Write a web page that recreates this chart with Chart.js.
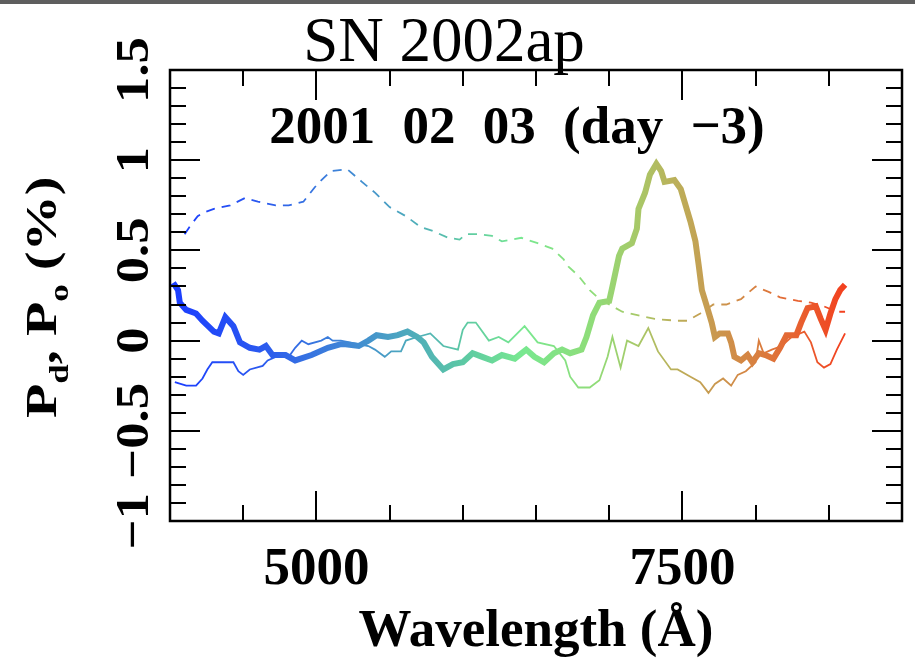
<!DOCTYPE html>
<html>
<head>
<meta charset="utf-8">
<title>SN 2002ap</title>
<script src="https://cdn.jsdelivr.net/npm/chart.js@4.4.1/dist/chart.umd.min.js"></script>
<style>
  html, body { margin: 0; padding: 0; background: #fff; overflow: hidden; }
  #wrap { width: 915px; height: 661px; overflow: hidden; }
</style>
</head>
<body>
<div id="wrap"><canvas id="polChart" width="925" height="661"></canvas></div>
<script>
// thick solid curve (P_d)
const pdWave = [4022, 4055, 4067, 4111, 4178, 4222, 4300, 4333, 4378, 4433, 4478, 4545, 4611, 4655, 4700, 4789, 4855, 4967,
    5078, 5167, 5200, 5289, 5355, 5411, 5489, 5555, 5622, 5689, 5733, 5789, 5867, 5933, 6000, 6067, 6133, 6200, 6267,
    6355, 6433, 6489, 6555, 6622, 6678, 6733, 6811, 6845, 6889, 6933, 7000, 7022, 7067, 7089, 7155, 7189, 7200, 7245,
    7278, 7322, 7355, 7378, 7445, 7489, 7522, 7555, 7589, 7611, 7633, 7667, 7700, 7722, 7755, 7811, 7833, 7855, 7900,
    7945, 7978, 8022, 8067, 8122, 8167, 8211, 8278, 8311, 8355, 8411, 8445, 8478, 8511, 8545, 8578, 8611];
const pdValue = [0.32, 0.28, 0.21, 0.17, 0.15, 0.11, 0.05, 0.04, 0.13, 0.08, -0.01, -0.04, -0.05, -0.03, -0.08, -0.08, -0.11, -0.08,
    -0.04, -0.02, -0.02, -0.03, 0.00, 0.03, 0.02, 0.03, 0.05, 0.02, -0.01, -0.09, -0.16, -0.13, -0.12, -0.07, -0.09, -0.11, -0.08,
    -0.10, -0.05, -0.09, -0.12, -0.07, -0.05, -0.07, -0.05, 0.02, 0.14, 0.21, 0.22, 0.30, 0.47, 0.51, 0.54, 0.62, 0.73, 0.82,
    0.92, 0.98, 0.94, 0.88, 0.89, 0.84, 0.75, 0.66, 0.55, 0.42, 0.28, 0.19, 0.10, 0.02, 0.04, 0.04, -0.01, -0.09, -0.11,
    -0.08, -0.12, -0.07, -0.08, -0.10, -0.04, 0.03, 0.03, 0.10, 0.18, 0.19, 0.12, 0.06, 0.15, 0.23, 0.28, 0.31];

// thin solid curve (P_o)
const poWave = [4033, 4111, 4178, 4222, 4255, 4289, 4433, 4467, 4500, 4545, 4633, 4667, 4722, 4811, 4855, 4900, 4945, 5033,
    5078, 5111, 5167, 5355, 5400, 5467, 5511, 5578, 5611, 5689, 5778, 5867, 5967, 6000, 6033, 6089, 6178, 6245, 6311,
    6422, 6511, 6622, 6700, 6733, 6789, 6867, 6933, 6989, 7022, 7078, 7122, 7200, 7267, 7333, 7422, 7467, 7555, 7622,
    7678, 7722, 7778, 7833, 7878, 7933, 8000, 8022, 8055, 8111, 8178, 8245, 8333, 8378, 8422, 8467, 8511, 8555, 8611];
const poValue = [-0.23, -0.25, -0.25, -0.21, -0.16, -0.12, -0.12, -0.17, -0.19, -0.16, -0.14, -0.11, -0.09, -0.09, -0.04, 0.00, -0.02, 0.00,
    0.02, 0.00, 0.00, -0.03, -0.05, -0.09, -0.06, -0.06, 0.00, 0.02, 0.04, -0.03, -0.05, 0.06, 0.10, 0.10, 0.00, 0.02, -0.01,
    0.08, -0.01, -0.03, -0.11, -0.20, -0.26, -0.26, -0.22, -0.09, 0.02, -0.15, 0.00, -0.03, 0.07, -0.06, -0.16, -0.16, -0.20, -0.23,
    -0.29, -0.24, -0.21, -0.25, -0.19, -0.17, -0.12, 0.00, -0.07, -0.05, -0.03, 0.02, 0.05, -0.01, -0.12, -0.15, -0.13, -0.05, 0.04];

// dashed curve
const dashWave = [4100, 4133, 4189, 4233, 4300, 4411, 4511, 4600, 4722, 4811, 4911, 4989, 5022, 5100, 5211, 5311, 5400, 5500,
    5611, 5711, 5789, 5900, 5978, 6022, 6111, 6200, 6267, 6400, 6511, 6611, 6689, 6722, 6789, 6867, 6933, 7000, 7089,
    7200, 7311, 7467, 7533, 7622, 7711, 7800, 7900, 8000, 8089, 8167, 8289, 8378, 8467, 8555, 8611];
const dashValue = [0.59, 0.63, 0.69, 0.71, 0.73, 0.75, 0.79, 0.77, 0.75, 0.75, 0.77, 0.85, 0.88, 0.94, 0.95, 0.88, 0.82, 0.74,
    0.69, 0.63, 0.61, 0.57, 0.56, 0.59, 0.59, 0.58, 0.55, 0.57, 0.54, 0.51, 0.45, 0.41, 0.36, 0.28, 0.23, 0.20, 0.16,
    0.14, 0.12, 0.11, 0.11, 0.15, 0.20, 0.20, 0.23, 0.30, 0.27, 0.24, 0.22, 0.21, 0.19, 0.16, 0.16];

// colour along wavelength
const stopWave = [4000, 4600, 5200, 5700, 6000, 6400, 6900, 7200, 7400, 7700, 8000, 8300, 8650];
const stopColor = ['#1a3cff', '#2a58f0', '#3f86d6', '#50b0b8', '#5cc8a4', '#78e890', '#90dc78', '#a8c868',
    '#b8b45c', '#c89a50', '#d88040', '#e86030', '#f43c1c'];

const yTickText = v => (v < -1e-9 ? '\u2212' : '') + String(Math.abs(Math.round(v * 10) / 10));
const isMajorY = v => Math.abs(v * 2 - Math.round(v * 2)) < 1e-6;

function toPoints(xs, ys) {
    return xs.map((w, i) => ({x: w, y: ys[i]}));
}

function spectrumColor(context) {
    const chart = context.chart;
    if (!chart.chartArea) return '#3050f0';
    const xs = chart.scales.x;
    const x0 = xs.getPixelForValue(stopWave[0]);
    const x1 = xs.getPixelForValue(stopWave[stopWave.length - 1]);
    const g = chart.ctx.createLinearGradient(x0, 0, x1, 0);
    const span = stopWave[stopWave.length - 1] - stopWave[0];
    stopWave.forEach((w, i) => g.addColorStop((w - stopWave[0]) / span, stopColor[i]));
    return g;
}

const frameAndText = {
    id: 'frameAndText',
    beforeDraw(chart) {
        const ctx = chart.ctx;
        ctx.save();
        ctx.fillStyle = '#ffffff';
        ctx.fillRect(0, 0, chart.width, chart.height);
        ctx.fillStyle = '#5e5e5e';
        ctx.fillRect(0, 0, chart.width, 4);
        ctx.restore();
    },
    afterDraw(chart) {
        const {ctx, chartArea: a} = chart;
        const x = chart.scales.x, y = chart.scales.y;
        ctx.save();
        ctx.strokeStyle = '#000';
        ctx.lineWidth = 2;
        // inward ticks on all four sides
        ctx.beginPath();
        x.ticks.forEach(t => {
            const px = Math.round(x.getPixelForValue(t.value));
            const len = t.value % 2500 === 0 ? 30 : 16;
            ctx.moveTo(px, a.bottom); ctx.lineTo(px, a.bottom - len);
            ctx.moveTo(px, a.top); ctx.lineTo(px, a.top + len);
        });
        y.ticks.forEach(t => {
            const py = Math.round(y.getPixelForValue(t.value));
            const len = isMajorY(t.value) ? 30 : 16;
            ctx.moveTo(a.left, py); ctx.lineTo(a.left + len, py);
            ctx.moveTo(a.right, py); ctx.lineTo(a.right - len, py);
        });
        ctx.stroke();
        ctx.lineWidth = 2.5;
        ctx.strokeRect(a.left, a.top, a.right - a.left, a.bottom - a.top);

        ctx.fillStyle = '#000';
        // y tick labels, rotated
        ctx.font = 'bold 47px "Liberation Serif"';
        ctx.textAlign = 'center';
        ctx.textBaseline = 'alphabetic';
        y.ticks.forEach(t => {
            if (!isMajorY(t.value)) return;
            ctx.save();
            ctx.translate(148, y.getPixelForValue(t.value));
            ctx.rotate(-Math.PI / 2);
            ctx.scale(1.12, 1);
            ctx.fillText(yTickText(t.value), 0, 0);
            ctx.restore();
        });

        // y axis title with subscripts
        ctx.save();
        ctx.translate(56, 418);
        ctx.rotate(-Math.PI / 2);
        ctx.scale(1.25, 1);
        ctx.textAlign = 'left';
        const big = 'bold 45px "Liberation Serif"', small = 'bold 28px "Liberation Serif"';
        let cx = 0;
        [['P', big, 0], ['d', small, 12], [', P', big, 0], ['o', small, 12], [' (%)', big, 0]].forEach(([s, f, dy]) => {
            ctx.font = f;
            ctx.fillText(s, cx, dy);
            cx += ctx.measureText(s).width;
        });
        ctx.restore();

        // main title and date label
        ctx.textAlign = 'center';
        ctx.font = '63px "Liberation Serif"';
        ctx.fillText('SN 2002ap', 444, 61);
        ctx.font = 'bold 53px "Liberation Serif"';
        if ('wordSpacing' in ctx) ctx.wordSpacing = '14px';
        ctx.fillText('2001 02 03 (day \u22123)', 517, 143);
        ctx.restore();
    }
};

const labelFont = {family: 'Liberation Serif', weight: 'bold', size: 53, lineHeight: 1};

new Chart(document.getElementById('polChart'), {
    type: 'line',
    plugins: [frameAndText],
    data: {
        datasets: [
            {
                label: 'Pd',
                data: toPoints(pdWave, pdValue),
                borderColor: spectrumColor,
                borderWidth: 6,
                pointRadius: 0,
                tension: 0
            },
            {
                label: 'Po',
                data: toPoints(poWave, poValue),
                borderColor: spectrumColor,
                borderWidth: 1.8,
                pointRadius: 0,
                tension: 0
            },
            {
                label: 'dashed',
                data: toPoints(dashWave, dashValue),
                borderColor: spectrumColor,
                borderWidth: 1.8,
                borderDash: [9, 7],
                pointRadius: 0,
                tension: 0
            }
        ]
    },
    options: {
        responsive: false,
        animation: false,
        layout: {padding: {left: 170, right: 5, top: 70, bottom: 2}},
        plugins: {
            legend: {display: false},
            tooltip: {enabled: false},
            title: {display: false}
        },
        scales: {
            x: {
                type: 'linear',
                min: 4000,
                max: 9000,
                grid: {display: false, drawTicks: false},
                border: {display: false},
                ticks: {
                    stepSize: 500,
                    autoSkip: false,
                    maxRotation: 0,
                    padding: 23,
                    color: '#000',
                    font: labelFont,
                    callback: v => (v % 2500 === 0 ? String(v) : '')
                },
                title: {display: true, text: 'Wavelength (Å)', color: '#000', font: labelFont, padding: {top: -14, bottom: 0}}
            },
            y: {
                type: 'linear',
                min: -1,
                max: 1.5,
                grid: {display: false, drawTicks: false},
                border: {display: false},
                ticks: {stepSize: 0.1, display: false}
            }
        }
    }
});
</script>
</body>
</html>
